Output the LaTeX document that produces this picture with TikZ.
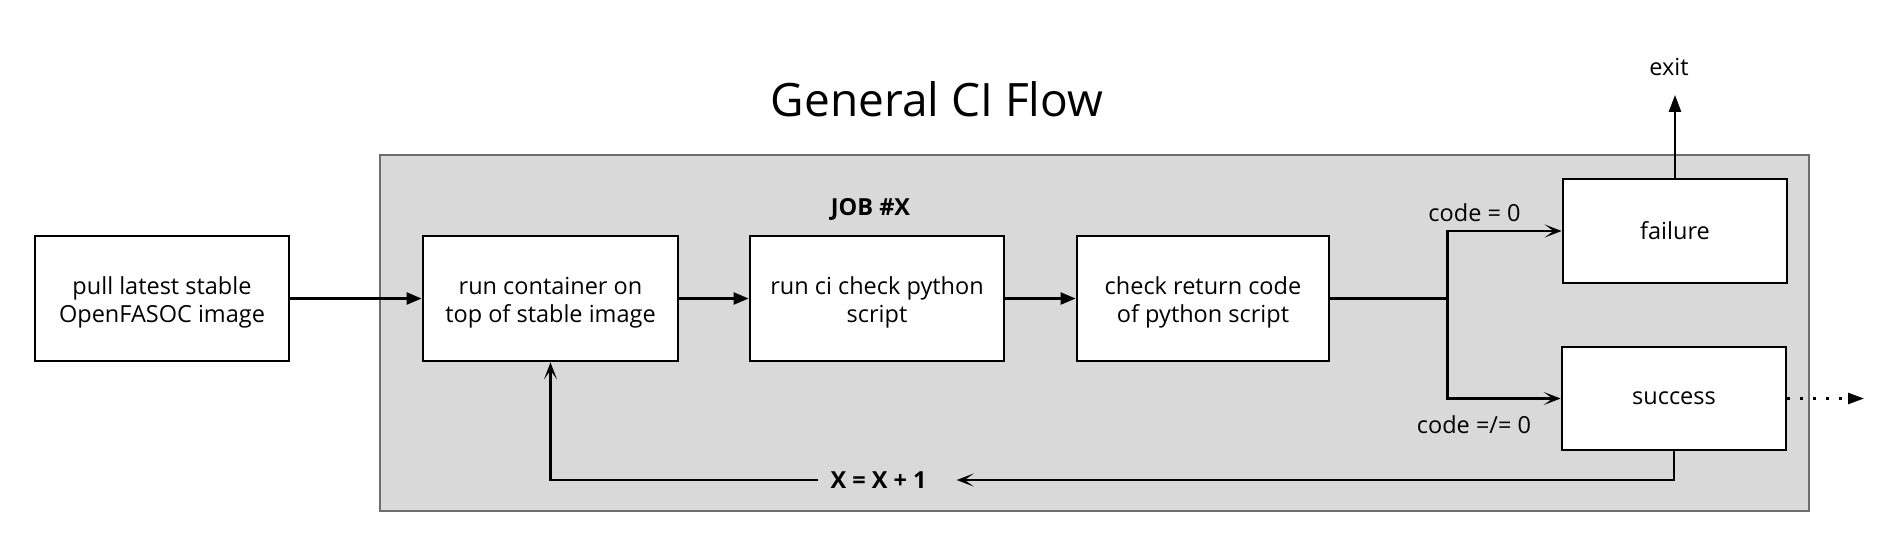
\documentclass[tikz,border=0pt]{standalone}
\usepackage{fontspec}
\setmainfont{Open Sans}
\usetikzlibrary{arrows.meta}
\definecolor{panelgray}{HTML}{D9D9D9}
\definecolor{paneledge}{HTML}{6E6E6E}
\newcommand{\bodysize}{\fontsize{23.5}{28.5}\selectfont}
\begin{document}
\begin{tikzpicture}[x=1pt,y=-1pt,
  box/.style={draw=black, line width=2.8pt, fill=white, minimum width=254pt, minimum height=125pt, align=center, font=\bodysize, inner sep=0pt, text height=51pt, text depth=3pt},
  smallbox/.style={draw=black, line width=2.8pt, fill=white, minimum width=224pt, minimum height=104pt, font=\bodysize, inner sep=0pt},
  lbl/.style={font=\bodysize, inner sep=0pt},
  conn/.style={line width=2.4pt},
  fillarrow/.style={conn, -{Triangle[length=15pt,width=12pt]}},
  openarrow/.style={conn, -{Stealth[length=17pt,width=13pt,inset=9pt]}},
]
\useasboundingbox (0,0) rectangle (1904,542);
\fill[white] (0,0) rectangle (1904,542);
% panel
\draw[fill=panelgray, draw=paneledge, line width=1.6pt] (380,155) rectangle (1809,511);
% title
\node[font=\fontsize{46}{52}\selectfont, anchor=base, inner sep=0pt] (title) at (937,116) {General CI Flow};
% boxes
\node[box] (pull) at (162,298.5) {pull latest stable\\OpenFASOC image};
\node[box, minimum width=255pt] (cont) at (550.5,298.5) {run container on\\top of stable image};
\node[box] (ci) at (877,298.5) {run ci check python\\script};
\node[box, minimum width=252pt] (check) at (1203,298.5) {check return code\\of python script};
\node[smallbox] (fail) at (1675,231) {failure};
\node[smallbox, minimum height=103pt] (succ) at (1674,398.5) {success};
% labels
\node[lbl, font=\bodysize\bfseries, anchor=base] (job) at (870.5,215) {JOB \#X};
\node[lbl, anchor=base] (c0) at (1474.5,221.7) {code = 0};
\node[lbl, anchor=base] (c1) at (1474,433.3) {code =/= 0};
\node[lbl, anchor=base] (exit) at (1669,75.5) {exit};
\node[lbl, font=\bodysize\bfseries, inner xsep=12pt] (xinc) at (878.5,480) {X = X + 1};
\coordinate (branch) at (1447.5,298.5);
\coordinate (succout) at (1864,398.5);
% connectors
\draw[fillarrow] (pull) -- (cont);
\draw[fillarrow] (cont) -- (ci);
\draw[fillarrow] (ci) -- (check);
\draw[conn] (check.east) -- (branch);
\draw[openarrow] (branch) |- (fail.west);
\draw[openarrow] (branch) |- (succ.west);
\draw[conn, -{Triangle[length=17pt,width=12pt]}, shorten >=19pt] (fail.north) -- (fail.north |- exit.south);
\draw[conn, dash pattern=on 2.5pt off 10.5pt, -{Triangle[length=16pt,width=11pt]}] (succ.east) -- (succout);
\draw[openarrow, shorten >=18pt] (succ.south) |- (xinc.east);
\draw[openarrow] (xinc.west) -| (cont.south);
\end{tikzpicture}
\end{document}
